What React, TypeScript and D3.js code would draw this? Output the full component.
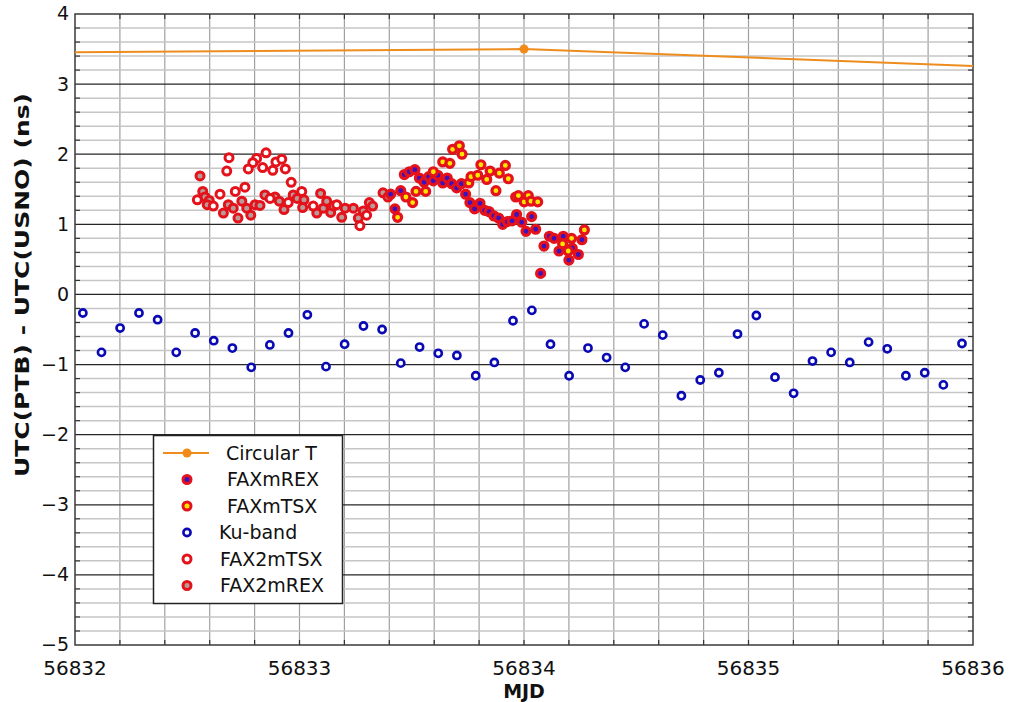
import React, { useEffect, useRef } from 'react';
import * as d3 from 'd3';

// Circular T (5-day points, only 56834 falls inside the window)
const circTMjd = [56829, 56834, 56839];
const circTValues = [3.39, 3.5, 2.9];

// Ku-band, 2-hourly
const kuMjd = [
  56832.035, 56832.118, 56832.201, 56832.285, 56832.368, 56832.451, 56832.535, 56832.618,
  56832.701, 56832.785, 56832.868, 56832.951, 56833.035, 56833.118, 56833.201, 56833.285,
  56833.368, 56833.451, 56833.535, 56833.618, 56833.701, 56833.785, 56833.868, 56833.951,
  56834.035, 56834.118, 56834.201, 56834.285, 56834.368, 56834.451, 56834.535, 56834.618,
  56834.701, 56834.785, 56834.868, 56834.951, 56835.035, 56835.118, 56835.201, 56835.285,
  56835.368, 56835.451, 56835.535, 56835.618, 56835.701, 56835.785, 56835.868, 56835.951
];
const kuValues = [
  -0.265, -0.826, -0.479, -0.265, -0.36, -0.826, -0.55, -0.66, -0.765, -1.04, -0.72, -0.55,
  -0.29, -1.03, -0.71, -0.45, -0.5, -0.98, -0.75, -0.84, -0.87, -1.16, -0.97, -0.375,
  -0.227, -0.71, -1.16, -0.765, -0.9, -1.04, -0.42, -0.58, -1.445, -1.22, -1.117, -0.565,
  -0.3, -1.18, -1.41, -0.95, -0.826, -0.97, -0.68, -0.775, -1.16, -1.117, -1.29, -0.7
];

// [MJD, ns]
const fax2mTsx = [
  [56832.686, 1.95], [56832.676, 1.76], [56832.851, 2.02], [56832.809, 1.94], [56832.792, 1.88],
  [56832.772, 1.79], [56832.836, 1.81], [56832.881, 1.77], [56832.895, 1.89], [56832.921, 1.93],
  [56832.937, 1.79], [56832.963, 1.6], [56832.545, 1.35], [56832.646, 1.43], [56832.714, 1.47],
  [56832.757, 1.53], [56833.01, 1.47], [56833.269, 0.98], [56832.869, 1.37], [56833.061, 1.26],
  [56833.166, 1.28], [56833.299, 1.13], [56832.616, 1.26], [56832.95, 1.31]
];
const fax2mRex = [
  [56832.557, 1.69], [56832.569, 1.47], [56832.579, 1.39], [56832.598, 1.34], [56832.589, 1.28],
  [56832.661, 1.16], [56832.683, 1.28], [56832.705, 1.23], [56832.726, 1.09], [56832.743, 1.33],
  [56832.765, 1.23], [56832.783, 1.13], [56832.802, 1.28], [56832.824, 1.27], [56832.846, 1.42],
  [56832.891, 1.39], [56832.91, 1.33], [56832.931, 1.21], [56832.972, 1.42], [56832.99, 1.37],
  [56833.02, 1.35], [56833.014, 1.24], [56833.077, 1.16], [56833.094, 1.44], [56833.106, 1.23],
  [56833.121, 1.33], [56833.139, 1.17], [56833.151, 1.26], [56833.188, 1.1], [56833.203, 1.23],
  [56833.24, 1.23], [56833.262, 1.09], [56833.284, 1.19], [56833.311, 1.31], [56833.326, 1.26],
  [56833.372, 1.45], [56833.394, 1.39]
];
const faxmRex = [
  [56833.406, 1.43], [56833.451, 1.48], [56833.425, 1.22], [56833.467, 1.71], [56833.489, 1.75],
  [56833.514, 1.78], [56833.534, 1.66], [56833.555, 1.6], [56833.576, 1.68], [56833.596, 1.62],
  [56833.616, 1.7], [56833.638, 1.59], [56833.658, 1.66], [56833.678, 1.58], [56833.7, 1.52],
  [56833.721, 1.58], [56833.74, 1.43], [56833.759, 1.31], [56833.78, 1.22], [56833.804, 1.3],
  [56833.825, 1.2], [56833.845, 1.18], [56833.866, 1.12], [56833.887, 1.09], [56833.905, 1.0],
  [56833.926, 1.04], [56833.947, 1.05], [56833.967, 1.14], [56833.99, 1.03], [56834.009, 0.9],
  [56834.034, 1.11], [56834.052, 0.93], [56834.074, 0.3], [56834.089, 0.69], [56834.113, 0.83],
  [56834.134, 0.8], [56834.156, 0.62], [56834.175, 0.83], [56834.2, 0.49], [56834.215, 0.66],
  [56834.242, 0.57], [56834.258, 0.78]
];
const faxmTsx = [
  [56833.437, 1.1], [56833.474, 1.39], [56833.504, 1.31], [56833.519, 1.47], [56833.562, 1.47],
  [56833.596, 1.75], [56833.638, 1.89], [56833.67, 1.87], [56833.682, 2.07], [56833.712, 2.12],
  [56833.724, 2.0], [56833.754, 1.59], [56833.764, 1.68], [56833.794, 1.7], [56833.808, 1.85],
  [56833.834, 1.64], [56833.849, 1.76], [56833.875, 1.48], [56833.89, 1.73], [56833.917, 1.84],
  [56833.93, 1.65], [56833.963, 1.39], [56833.975, 1.41], [56834.001, 1.32], [56834.019, 1.41],
  [56834.031, 1.33], [56834.061, 1.32], [56834.172, 0.72], [56834.197, 0.62], [56834.212, 0.8],
  [56834.269, 0.92]
];

const xTicks = [56832, 56833, 56834, 56835, 56836];
const yTicks = [-5, -4, -3, -2, -1, 0, 1, 2, 3, 4];
const legendNames = ['Circular T', 'FAXmREX', 'FAXmTSX', 'Ku-band', 'FAX2mTSX', 'FAX2mREX'];

const RED = '#e3121b';
const FONT = '"DejaVu Sans", Verdana, sans-serif';

const App = () => {
  const ref = useRef<SVGSVGElement>(null);

  useEffect(() => {
    const W = 1009;
    const H = 702;
    const margin = { top: 14, right: 36, bottom: 57, left: 75 };
    const width = W - margin.left - margin.right;
    const height = H - margin.top - margin.bottom;

    const root = d3.select(ref.current);
    root.selectAll('*').remove();
    const svg = root.append('g').attr('transform', `translate(${margin.left},${margin.top})`);

    const x = d3.scaleLinear().domain([56832, 56836]).range([0, width]);
    const y = d3.scaleLinear().domain([-5, 4]).range([height, 0]);

    root
      .append('defs')
      .append('clipPath')
      .attr('id', 'plot-clip')
      .append('rect')
      .attr('width', width)
      .attr('height', height);

    // grid
    const xMinor = d3.range(1, 20).map((i) => 56832 + i * 0.2);
    const yMinor = d3.range(-25, 20).map((i) => i / 5).filter((v) => Math.abs(v - Math.round(v)) > 1e-6);

    svg
      .append('g')
      .selectAll('line')
      .data(xMinor)
      .join('line')
      .attr('x1', (d) => x(d))
      .attr('x2', (d) => x(d))
      .attr('y1', 0)
      .attr('y2', height)
      .attr('stroke', '#a0a0a0')
      .attr('stroke-width', 1.2);

    svg
      .append('g')
      .selectAll('line')
      .data(yMinor)
      .join('line')
      .attr('x1', 0)
      .attr('x2', width)
      .attr('y1', (d) => y(d))
      .attr('y2', (d) => y(d))
      .attr('stroke', '#c6c6c6')
      .attr('stroke-width', 1.5);

    svg
      .append('g')
      .selectAll('line')
      .data(yTicks.slice(1, -1))
      .join('line')
      .attr('x1', 0)
      .attr('x2', width)
      .attr('y1', (d) => y(d))
      .attr('y2', (d) => y(d))
      .attr('stroke', '#262626')
      .attr('stroke-width', 1.2);

    // small inward ticks on all four sides
    const tk = svg.append('g').attr('stroke', '#333').attr('stroke-width', 1.2);
    xMinor.forEach((d) => {
      tk.append('line').attr('x1', x(d)).attr('x2', x(d)).attr('y1', height).attr('y2', height - 5);
      tk.append('line').attr('x1', x(d)).attr('x2', x(d)).attr('y1', 0).attr('y2', 5);
    });
    yMinor.forEach((d) => {
      tk.append('line').attr('x1', 0).attr('x2', 5).attr('y1', y(d)).attr('y2', y(d));
      tk.append('line').attr('x1', width).attr('x2', width - 5).attr('y1', y(d)).attr('y2', y(d));
    });

    svg
      .append('rect')
      .attr('width', width)
      .attr('height', height)
      .attr('fill', 'none')
      .attr('stroke', '#3a3a3a')
      .attr('stroke-width', 1.5);

    // tick labels
    svg
      .append('g')
      .selectAll('text')
      .data(xTicks)
      .join('text')
      .attr('x', (d) => x(d))
      .attr('y', height + 30)
      .attr('text-anchor', 'middle')
      .style('font', `20px ${FONT}`)
      .attr('fill', '#111')
      .text((d) => String(d));

    svg
      .append('g')
      .selectAll('text')
      .data(yTicks)
      .join('text')
      .attr('x', -6)
      .attr('y', (d) => y(d))
      .attr('dy', '0.34em')
      .attr('text-anchor', 'end')
      .style('font', `19px ${FONT}`)
      .attr('fill', '#111')
      .text((d) => d3.format('d')(d));

    // axis titles
    svg
      .append('text')
      .attr('x', width / 2)
      .attr('y', height + 53)
      .attr('text-anchor', 'middle')
      .style('font', `bold 19px ${FONT}`)
      .attr('fill', '#111')
      .text('MJD');

    svg
      .append('text')
      .attr('transform', `translate(${22 - margin.left},${285 - margin.top}) rotate(-90)`)
      .attr('text-anchor', 'middle')
      .attr('dy', '0.35em')
      .attr('textLength', 384)
      .attr('lengthAdjust', 'spacingAndGlyphs')
      .style('font', `bold 19px ${FONT}`)
      .attr('fill', '#111')
      .text('UTC(PTB) - UTC(USNO) (ns)');

    // data
    const plot = svg.append('g').attr('clip-path', 'url(#plot-clip)');

    const drawDots = (data: number[][], fill: string, stroke: string, r: number, sw: number) => {
      plot
        .append('g')
        .selectAll('circle')
        .data(data)
        .join('circle')
        .attr('cx', (d) => x(d[0]))
        .attr('cy', (d) => y(d[1]))
        .attr('r', r)
        .attr('fill', fill)
        .attr('stroke', stroke)
        .attr('stroke-width', sw);
    };

    drawDots(fax2mRex, '#b99a96', RED, 4, 3);
    drawDots(fax2mTsx, '#ffffff', RED, 4, 3);
    drawDots(faxmRex, '#3a12c0', RED, 4, 3.2);
    drawDots(faxmTsx, '#ffe600', RED, 4, 3.2);
    drawDots(
      kuMjd.map((m, i) => [m, kuValues[i]]),
      '#ffffff',
      '#0a0ab4',
      3.6,
      2.6
    );

    const circT = circTMjd.map((m, i) => [m, circTValues[i]]);
    const line = d3
      .line<number[]>()
      .x((d) => x(d[0]))
      .y((d) => y(d[1]));
    plot
      .append('path')
      .datum(circT)
      .attr('d', line)
      .attr('fill', 'none')
      .attr('stroke', '#ee8c1e')
      .attr('stroke-width', 2);
    drawDots(circT, '#f28a1a', 'none', 4.5, 0);

    // legend
    const lg = root.append('g');
    lg.append('rect')
      .attr('x', 153.5)
      .attr('y', 435.5)
      .attr('width', 189)
      .attr('height', 168)
      .attr('fill', '#fff')
      .attr('stroke', '#222')
      .attr('stroke-width', 1.5);

    const rowY = [453, 479.5, 506, 532.5, 559, 585.5];
    const textX = [226, 227, 227, 219, 220, 220];
    const styles = [
      { fill: '#f28a1a', stroke: 'none' },
      { fill: '#3a12c0', stroke: RED },
      { fill: '#ffe600', stroke: RED },
      { fill: '#ffffff', stroke: '#0a0ab4' },
      { fill: '#ffffff', stroke: RED },
      { fill: '#b99a96', stroke: RED }
    ];
    legendNames.forEach((name, i) => {
      if (i === 0) {
        lg.append('line')
          .attr('x1', 163)
          .attr('x2', 209)
          .attr('y1', rowY[i])
          .attr('y2', rowY[i])
          .attr('stroke', '#ee8c1e')
          .attr('stroke-width', 2);
      }
      lg.append('circle')
        .attr('cx', 187)
        .attr('cy', rowY[i])
        .attr('r', i === 0 ? 4.5 : i === 3 ? 3.6 : 4)
        .attr('fill', styles[i].fill)
        .attr('stroke', styles[i].stroke)
        .attr('stroke-width', i === 3 ? 2.6 : 3);
      lg.append('text')
        .attr('x', textX[i])
        .attr('y', rowY[i])
        .attr('dy', '0.36em')
        .style('font', `19px ${FONT}`)
        .attr('fill', '#111')
        .text(name);
    });
  }, []);

  return (
    <svg
      ref={ref}
      width={1009}
      height={702}
      style={{ position: 'absolute', left: 0, top: 0, background: '#fff' }}
    />
  );
};

export default App;
